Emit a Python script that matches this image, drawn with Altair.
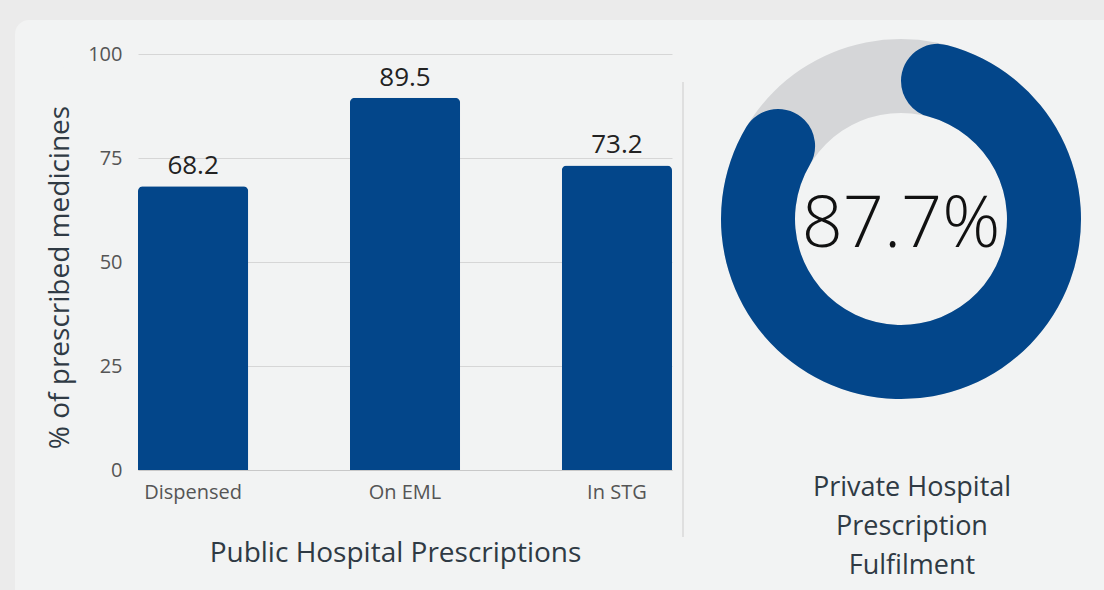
import altair as alt
import pandas as pd

# ---- data ----
categories = ["Dispensed", "On EML", "In STG"]
values = [68.2, 89.5, 73.2]
y_ticks = [0, 25, 50, 75, 100]
private_value = 87.7
private_title = ["Private Hospital", "Prescription", "Fulfilment"]

FONT = "Open Sans"
BLUE = "#03468a"
RING_GRAY = "#d5d6d8"
PANEL = "#f2f3f3"
OUTER = "#ebebeb"
TITLE_COLOR = "#2f3a44"

bars_df = pd.DataFrame({"category": categories, "value": values})
ring_df = pd.DataFrame({"start": [0.0, 0.0], "end": [100.0, private_value],
                        "part": ["rest", "filled"]})

W, H = 534, 416
PAD_L, PAD_T = 138, 54
one = pd.DataFrame({"p": [0]})

x_enc = alt.X("category:N", sort=categories,
              scale=alt.Scale(paddingInner=0.48, paddingOuter=0),
              axis=alt.Axis(title="Public Hospital Prescriptions", labelAngle=0,
                            labelFontSize=20, labelColor="#555", labelPadding=12,
                            labelFont=FONT, ticks=False, domainColor="#c8c8c8",
                            grid=False,
                            titleFontSize=28, titleColor=TITLE_COLOR, titleFont=FONT,
                            titleFontWeight="normal", titleX=257, titleY=83,
                            titleBaseline="middle", titleAlign="center"))
y_enc = alt.Y("value:Q", scale=alt.Scale(domain=[0, 100], nice=False),
              axis=alt.Axis(values=y_ticks, title="% of prescribed medicines",
                            labelFontSize=20, labelColor="#555", labelPadding=16,
                            labelFont=FONT, ticks=False, domain=False, grid=True,
                            gridColor="#d6d6d6", titleFontSize=28,
                            titleColor=TITLE_COLOR,
                            titleFont=FONT, titleFontWeight="normal",
                            titleX=60 - PAD_L, titleY=277 - PAD_T, titleAngle=270,
                            titleAlign="center", titleBaseline="middle"))

# outer gray strips (top and left) around the panel, plus rounded corner
def rect(x1, x2, y1, y2, color, radius=0):
    return alt.Chart(one).mark_rect(color=color, cornerRadius=radius).encode(
        x=alt.value(x1 - PAD_L), x2=alt.value(x2 - PAD_L),
        y=alt.value(y1 - PAD_T), y2=alt.value(y2 - PAD_T))

strip_top = rect(0, 1104, 0, 20, OUTER)
strip_left = rect(0, 15, 0, 590, OUTER)
corner_bg = rect(15, 40, 20, 45, OUTER)
corner_panel = rect(15, 70, 20, 70, PANEL, radius=14)

bars = alt.Chart(bars_df).mark_bar(color=BLUE, cornerRadiusTopLeft=5,
                                   cornerRadiusTopRight=5).encode(x=x_enc, y=y_enc)

labels = alt.Chart(bars_df).mark_text(
    baseline="alphabetic", dy=-12, fontSize=26, color="#222", font=FONT
).encode(x=alt.X("category:N", sort=categories), y="value:Q",
         text=alt.Text("value:Q", format=".1f"))

divider = alt.Chart(one).mark_rule(
    color="#d9d9d9", strokeWidth=1.5
).encode(x=alt.value(683 - PAD_L), y=alt.value(82 - PAD_T), y2=alt.value(537 - PAD_T))

CX, CY = 901 - PAD_L, 219 - PAD_T
theta_scale = alt.Scale(domain=[0, 100], range=[0, 6.283185307])

ring_bg = alt.Chart(ring_df[ring_df.part == "rest"]).mark_arc(
    color=RING_GRAY, innerRadius=106, outerRadius=180
).encode(theta=alt.Theta("start:Q", scale=theta_scale), theta2="end:Q",
         x=alt.value(CX), y=alt.value(CY))

ring_fg = alt.Chart(ring_df[ring_df.part == "filled"]).mark_arc(
    color=BLUE, innerRadius=106, outerRadius=180, cornerRadius=37
).encode(theta=alt.Theta("start:Q", scale=theta_scale), theta2="end:Q",
         x=alt.value(CX), y=alt.value(CY))

center_pct = alt.Chart(pd.DataFrame({"v": [private_value]})).mark_text(
    fontSize=72, font=FONT, fontWeight=300, color="#111", baseline="middle",
    align="center"
).transform_calculate(
    lbl="format(datum.v, '.1f') + '%'"
).encode(text="lbl:N", x=alt.value(CX), y=alt.value(CY + 6))

private_lbl = alt.Chart(pd.DataFrame({"t": [private_title]})).mark_text(
    fontSize=27, font=FONT, color=TITLE_COLOR, align="center", baseline="middle",
    lineHeight=39
).encode(text="t", x=alt.value(912 - PAD_L), y=alt.value(488 - PAD_T))

chart = alt.layer(strip_top, strip_left, corner_bg, corner_panel, bars, labels,
                  divider, ring_bg, ring_fg, center_pct, private_lbl).properties(
    width=W, height=H, background=PANEL,
    padding={"left": PAD_L, "top": PAD_T, "right": 1104 - PAD_L - W,
             "bottom": 590 - PAD_T - H},
    autosize=alt.AutoSizeParams(type="none")
).configure_view(stroke=None)

chart.save("out.html", embed_options={"renderer": "svg", "actions": False})
